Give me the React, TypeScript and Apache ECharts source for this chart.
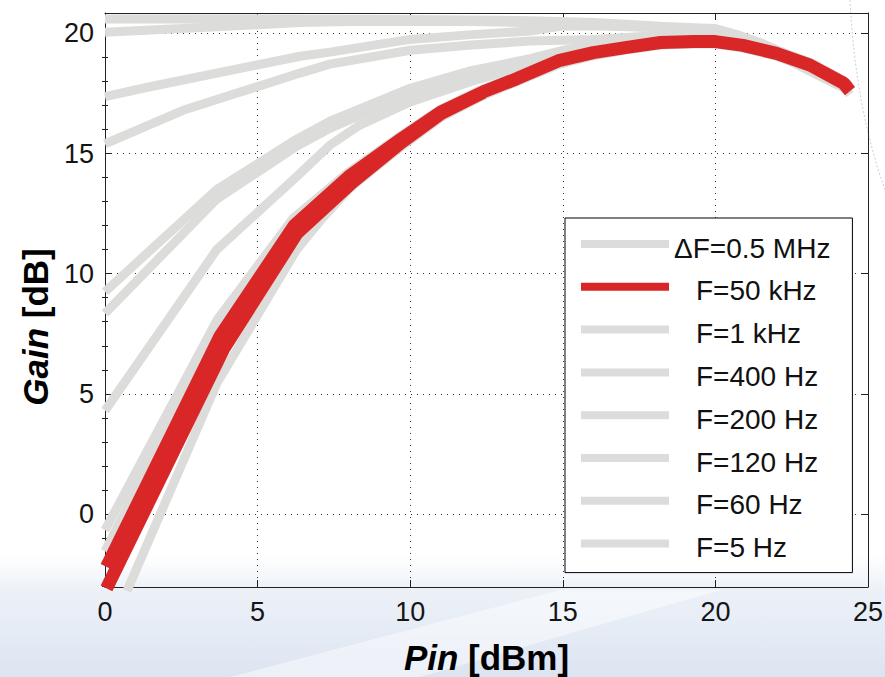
import React, { useEffect, useRef } from 'react';
import * as echarts from 'echarts';

// ---- axis ticks ----
const xTicks = [0, 5, 10, 15, 20, 25];
const yTicks = [0, 5, 10, 15, 20];
const yMinorTicks = [-3, -2, -1, 1, 2, 3, 4, 6, 7, 8, 9, 11, 12, 13, 14, 16, 17, 18, 19];

// ---- legend entries ----
const legendNames = ['ΔF=0.5 MHz', 'F=50 kHz', 'F=1 kHz', 'F=400 Hz', 'F=200 Hz', 'F=120 Hz', 'F=60 Hz', 'F=5 Hz'];

// ---- measured curves: [Pin dBm, Gain dB] ----
const gainDF05MHz = [[0, 20.6], [5, 20.6], [10, 20.58], [13, 20.55], [14.9, 20.5], [16, 20.45], [17.1, 20.38], [18.2, 20.3], [19.3, 20.24], [20, 20.2], [20.7, 19.95], [21.5, 19.6], [22.6, 19.0], [23.6, 18.35], [24.4, 17.85]];
const gain1kHz = [[0, 20.05], [2.5, 20.2], [5, 20.36], [6.4, 20.45], [8, 20.5], [12, 20.5], [14.9, 20.42], [17, 20.3], [20, 20.15], [20.7, 19.93], [21.5, 19.58], [22.6, 18.98], [23.6, 18.33], [24.4, 17.83]];
const gain400Hz = [[0, 17.37], [1.47, 17.78], [6.39, 19.05], [7.37, 19.22], [10, 19.75], [12, 19.95], [13.93, 20.1], [14.9, 20.3], [16, 20.32], [18, 20.25], [20, 20.12], [20.7, 19.9], [21.5, 19.55], [22.6, 18.95], [23.6, 18.3], [24.4, 17.8]];
const gain200Hz = [[0, 15.4], [2.56, 16.8], [6.39, 18.35], [7.37, 18.72], [10, 19.3], [12, 19.52], [13.93, 19.68], [16, 19.75], [18, 19.9], [20, 20.0], [20.7, 19.85], [21.5, 19.5], [22.6, 18.9], [23.6, 18.25], [24.4, 17.75]];
const gain120Hz = [[0, 9.25], [3.66, 13.5], [6.28, 15.6], [7.37, 16.35], [10, 17.72], [12, 18.45], [13.93, 18.95], [15, 19.3], [17, 19.7], [19, 19.88], [20, 19.92], [20.7, 19.8], [21.5, 19.45], [22.6, 18.85], [23.6, 18.2], [24.4, 17.7]];
const gain60Hz = [[0, 8.35], [3.66, 13.1], [6.28, 15.3], [7.37, 16.05], [10, 17.5], [12, 18.3], [13.93, 18.85], [15, 19.2], [17, 19.6], [19, 19.8], [20, 19.86], [20.7, 19.75], [21.5, 19.4], [22.6, 18.8], [23.6, 18.15], [24.4, 17.65]];
const gain5Hz = [[0, 4.3], [3.66, 11.0], [6.28, 14.04], [7.37, 15.35], [8.3, 16.15], [10, 17.15], [12, 18.0], [13.93, 18.7], [15, 19.15], [17, 19.55], [19, 19.78], [20, 19.82], [20.7, 19.7], [21.5, 19.35], [22.6, 18.75], [23.6, 18.1], [24.4, 17.6]];
const gainTraceA = [[0, -0.67], [3.67, 8.07], [6.16, 12.3], [8, 14.25], [9.7, 15.75], [11, 16.85], [12.4, 17.7], [13.5, 18.25], [14.9, 18.98], [16, 19.32], [17.1, 19.55], [18.2, 19.75], [19.3, 19.8], [20, 19.8], [20.9, 19.62], [22, 19.3], [23.1, 18.8], [24.2, 18.05], [24.4, 17.8]];
const gainTraceB = [[0, -1.55], [3.7, 7.7], [6.2, 12.1], [8, 14.1], [9.7, 15.65], [11, 16.78], [12.4, 17.62]];
const gainTraceC = [[0.72, -3.2], [3.67, 5.45], [6.28, 11.0], [7.05, 12.2], [8.03, 13.57], [9.67, 15.25], [11, 16.5], [12.4, 17.42], [13.5, 18.0], [14.9, 18.72], [16, 19.08], [17.1, 19.32], [18.2, 19.52], [19.3, 19.56], [20, 19.56], [20.9, 19.4], [22, 19.05], [23.1, 18.55], [24.2, 17.8], [24.4, 17.45]];
const gain50kHz = [[0.05, -2.2], [3.77, 7.4], [6.2, 12.0], [8, 14.05], [9.7, 15.6], [11, 16.72], [12.4, 17.57], [13.5, 18.12], [14.9, 18.88], [16, 19.2], [17.1, 19.42], [18.2, 19.62], [19.3, 19.66], [20, 19.66], [20.9, 19.5], [22, 19.17], [23.1, 18.68], [24.2, 17.93], [24.41, 17.6]];
const gain50kHzB = [[0.05, -3.1], [3.9, 6.9], [6.3, 11.7], [8.1, 13.8], [9.7, 15.45], [11, 16.66], [12.4, 17.55]];

const GRAY = '#dcdcdb';
const RED = '#d92626';
const FONT = '"Liberation Sans", Arial, Helvetica, sans-serif';

const graySeries = [
  { name: 'trace A', data: gainTraceA },
  { name: 'trace B', data: gainTraceB },
  { name: 'trace C', data: gainTraceC },
  { name: 'F=5 Hz', data: gain5Hz },
  { name: 'F=60 Hz', data: gain60Hz },
  { name: 'F=120 Hz', data: gain120Hz },
  { name: 'F=200 Hz', data: gain200Hz },
  { name: 'F=400 Hz', data: gain400Hz },
  { name: 'F=1 kHz', data: gain1kHz },
  { name: 'ΔF=0.5 MHz', data: gainDF05MHz },
];
const redSeries = [
  { name: 'F=50 kHz', data: gain50kHzB },
  { name: 'F=50 kHz', data: gain50kHz },
];

export default function App() {
  const ref = useRef<HTMLDivElement>(null);
  useEffect(() => {
    if (!ref.current) return;
    const chart = echarts.init(ref.current, null, { renderer: 'svg' });
    const mkLine = (s: any, color: string, width: number) => ({
      type: 'line',
      name: s.name,
      data: s.data,
      xAxisIndex: 0,
      yAxisIndex: 0,
      showSymbol: false,
      symbol: 'none',
      clip: false,
      silent: true,
      color,
      itemStyle: { color },
      lineStyle: { color, width, cap: 'butt', join: 'bevel' },
    });
    const gridLine = { show: true, lineStyle: { color: '#333', width: 1, type: [1, 5] } };
    const tickStyle = { lineStyle: { color: '#222', width: 1 } };
    const opt: any = {
      animation: false,
      backgroundColor: 'transparent',
      textStyle: { fontFamily: FONT },
      grid: { left: 105, top: 13, right: 17, bottom: 90, containLabel: false, outerBoundsMode: 'none' },
      graphic: [
        {
          type: 'rect', z: -10, silent: true,
          shape: { x: 0, y: 555, width: 885, height: 122 },
          style: {
            fill: new echarts.graphic.LinearGradient(0, 0, 0, 1, [
              { offset: 0, color: 'rgba(228,235,245,0)' },
              { offset: 0.3, color: 'rgba(228,235,245,0.7)' },
              { offset: 1, color: 'rgba(220,228,241,1)' },
            ]),
          },
        },
        {
          type: 'polygon', z: -9, silent: true,
          shape: { points: [[230, 677], [560, 590], [720, 590], [420, 677]] },
          style: { fill: 'rgba(255,255,255,0.45)' },
        },
        {
          type: 'bezierCurve', z: -9, silent: true,
          shape: { x1: 850, y1: 0, cpx1: 853, cpy1: 60, cpx2: 862, cpy2: 125, x2: 885, y2: 190 },
          style: { stroke: '#cfcfcf', lineWidth: 1, lineDash: [2, 2], fill: 'none' },
        },
      ],
      xAxis: [
        {
          type: 'value', position: 'bottom', min: xTicks[0], max: xTicks[xTicks.length - 1], interval: 5,
          axisLine: { show: true, onZero: false, lineStyle: { color: '#222', width: 1 } },
          axisTick: { show: true, inside: true, length: 7, ...tickStyle },
          axisLabel: { show: true, fontSize: 27, color: '#151515', margin: 11, fontFamily: FONT },
          splitLine: gridLine,
          name: '{i|Pin}{b| [dBm]}',
          nameLocation: 'middle',
          nameGap: 53,
          nameTextStyle: {
            fontFamily: FONT, color: '#000', lineHeight: 34,
            rich: {
              i: { fontSize: 35, lineHeight: 34, fontWeight: 'bold', fontStyle: 'italic', fontFamily: FONT, color: '#000' },
              b: { fontSize: 35, lineHeight: 34, fontWeight: 'bold', fontFamily: FONT, color: '#000' },
            },
          },
        },
        {
          type: 'value', position: 'top', min: xTicks[0], max: xTicks[xTicks.length - 1], interval: 5,
          axisLine: { show: true, onZero: false, lineStyle: { color: '#222', width: 1 } },
          axisTick: { show: true, inside: true, length: 7, ...tickStyle },
          axisLabel: { show: false },
          splitLine: { show: false },
        },
      ],
      yAxis: [
        {
          type: 'value', position: 'left', min: -3.04, max: 20.85,
          axisLine: { show: true, onZero: false, lineStyle: { color: '#222', width: 1 } },
          axisTick: { show: true, inside: true, length: 7, customValues: yTicks, ...tickStyle },
          axisLabel: { show: true, fontSize: 27, color: '#151515', margin: 11, customValues: yTicks, fontFamily: FONT },
          splitLine: gridLine,
          name: '{i|Gain}{b| [dB]}',
          nameLocation: 'middle',
          nameGap: 52,
          nameTextStyle: {
            fontFamily: FONT, color: '#000', padding: [0, 54, 0, 0],
            rich: {
              i: { fontSize: 35, fontWeight: 'bold', fontStyle: 'italic', fontFamily: FONT, color: '#000' },
              b: { fontSize: 35, fontWeight: 'bold', fontFamily: FONT, color: '#000' },
            },
          },
        },
        {
          type: 'value', position: 'left', min: -3.04, max: 20.85,
          axisLine: { show: false },
          axisTick: { show: true, inside: true, length: 3, customValues: yMinorTicks, ...tickStyle },
          axisLabel: { show: false, customValues: yMinorTicks },
          splitLine: { show: false },
        },
        {
          type: 'value', position: 'right', min: -3.04, max: 20.85,
          axisLine: { show: true, onZero: false, lineStyle: { color: '#222', width: 1 } },
          axisTick: { show: true, inside: true, length: 7, customValues: yTicks, ...tickStyle },
          axisLabel: { show: false, customValues: yTicks },
          splitLine: { show: false },
        },
        {
          type: 'value', position: 'right', min: -3.04, max: 20.85,
          axisLine: { show: false },
          axisTick: { show: true, inside: true, length: 3, customValues: yMinorTicks, ...tickStyle },
          axisLabel: { show: false, customValues: yMinorTicks },
          splitLine: { show: false },
        },
      ],
      legend: {
        show: true,
        orient: 'vertical',
        left: 565,
        top: 218,
        data: legendNames,
        icon: 'rect',
        itemWidth: 88,
        itemHeight: 8,
        itemGap: 4.8,
        padding: [7, 22, 10, 16],
        backgroundColor: '#fff',
        borderColor: '#000',
        borderWidth: 1,
        borderRadius: 0,
        selectedMode: false,
        formatter: (n: string) => (n.charAt(0) === 'Δ' ? n : '{s| }' + n),
        textStyle: {
          fontSize: 28, color: '#111', fontFamily: FONT, lineHeight: 30, padding: [8, 0, 0, 0],
          rich: { s: { width: 22, fontSize: 28, lineHeight: 30 } },
        },
      },
      series: [
        ...graySeries.map((s) => mkLine(s, GRAY, 9)),
        ...redSeries.map((s) => mkLine(s, RED, 13)),
      ],
    };
    chart.setOption(opt);
    return () => chart.dispose();
  }, []);
  return (
    <div
      ref={ref}
      style={{ position: 'fixed', left: 0, top: 0, width: 885, height: 677, background: '#fff' }}
    />
  );
}
